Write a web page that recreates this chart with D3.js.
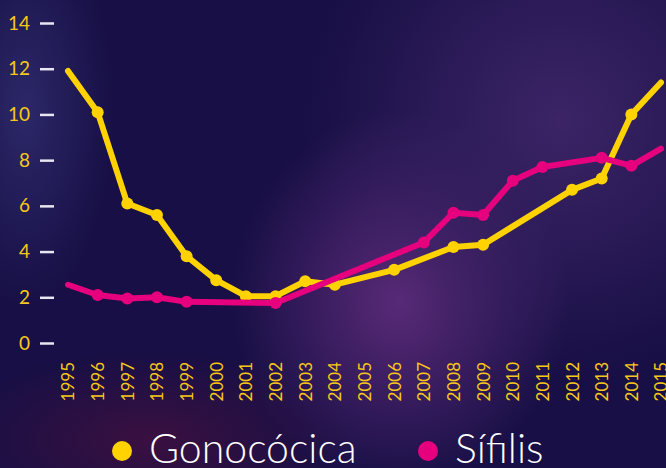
<!DOCTYPE html>
<html>
<head>
<meta charset="utf-8">
<script src="https://cdn.jsdelivr.net/npm/d3@7"></script>
<style>
  html, body { margin: 0; padding: 0; background: #150f42; }
  svg { display: block; }
</style>
</head>
<body>
<div id="viz"></div>
<script>
const years = ['1995','1996','1997','1998','1999','2000','2001','2002','2003','2004','2005',
               '2006','2007','2008','2009','2010','2011','2012','2013','2014','2015'];
// null = no value reported that year (line is drawn straight across)
const gonococica = [11.9, 10.1, 6.1, 5.6, 3.8, 2.75, 2.05, 2.05, 2.7, 2.55, null,
                    3.2, null, 4.2, 4.3, null, null, 6.7, 7.2, 10.0, 11.4];
const sifilis = [2.55, 2.1, 1.95, 2.0, 1.8, null, null, 1.75, null, null, null,
                 null, 4.4, 5.7, 5.6, 7.1, 7.7, null, 8.1, 7.75, 8.5];
const yTicks = [0, 2, 4, 6, 8, 10, 12, 14];
const seriesNames = ['Gonocócica', 'Sífilis'];
const seriesColors = ['#ffd200', '#e6007e'];

const width = 666;
const height = 468;

const svg = d3.select('#viz')
    .append('svg')
    .attr('width', width)
    .attr('height', height);

// background glows
const defs = svg.append('defs');
function glow(id, stops) {
    const g = defs.append('radialGradient').attr('id', id);
    stops.forEach(s => g.append('stop')
        .attr('offset', s[0]).attr('stop-color', s[1]).attr('stop-opacity', s[2]));
}
glow('g1', [['0%', '#5a2a78', 1], ['100%', '#5a2a78', 0]]);
glow('g2', [['0%', '#3c2466', 1], ['100%', '#3c2466', 0]]);
glow('g3', [['0%', '#2c2868', 1], ['100%', '#2c2868', 0]]);
glow('g4', [['0%', '#3a1040', 1], ['100%', '#3a1040', 0]]);

svg.append('rect').attr('width', width).attr('height', height).attr('fill', '#170f45');
svg.append('ellipse').attr('cx', 400).attr('cy', 300).attr('rx', 170).attr('ry', 190).attr('fill', 'url(#g1)');
svg.append('ellipse').attr('cx', 560).attr('cy', 120).attr('rx', 260).attr('ry', 260).attr('fill', 'url(#g2)');
svg.append('ellipse').attr('cx', 25).attr('cy', 110).attr('rx', 90).attr('ry', 200).attr('fill', 'url(#g3)');
svg.append('ellipse').attr('cx', 150).attr('cy', 440).attr('rx', 200).attr('ry', 90).attr('fill', 'url(#g4)');

const x = d3.scalePoint()
    .domain(years)
    .range([68, 661]);

const y = d3.scaleLinear()
    .domain([0, 14])
    .range([343, 23]);

// y axis
const yAxis = svg.append('g')
    .attr('transform', 'translate(54,0)')
    .call(d3.axisLeft(y).tickValues(yTicks).tickSize(14).tickPadding(10));
yAxis.select('.domain').remove();
yAxis.selectAll('.tick line').attr('stroke', '#e8e6f0').attr('stroke-width', 2.5);
yAxis.selectAll('.tick text')
    .attr('fill', '#f7c81a')
    .attr('font-family', 'Lato, sans-serif')
    .attr('font-weight', 400)
    .attr('font-size', 19);

// x axis (labels only)
const xAxis = svg.append('g')
    .attr('transform', 'translate(0,358)')
    .call(d3.axisBottom(x).tickSize(0).tickPadding(0));
xAxis.select('.domain').remove();
xAxis.selectAll('.tick text')
    .attr('fill', '#f7c81a')
    .attr('font-family', 'Lato, sans-serif')
    .attr('font-weight', 400)
    .attr('font-size', 17)
    .attr('text-anchor', 'end')
    .attr('transform', 'rotate(-90)')
    .attr('x', -4)
    .attr('y', 0)
    .attr('dy', '0.35em');

const line = d3.line()
    .x(d => x(d.year))
    .y(d => y(d.value));

[gonococica, sifilis].forEach((vals, i) => {
    const pts = years.map((yr, j) => ({ year: yr, value: vals[j] }))
        .filter(d => d.value !== null);
    const g = svg.append('g');
    g.append('path')
        .datum(pts)
        .attr('fill', 'none')
        .attr('stroke', seriesColors[i])
        .attr('stroke-width', 6)
        .attr('stroke-linecap', 'round')
        .attr('stroke-linejoin', 'round')
        .attr('d', line);
    // markers on inner points only
    g.selectAll('circle')
        .data(pts.slice(1, -1))
        .join('circle')
        .attr('cx', d => x(d.year))
        .attr('cy', d => y(d.value))
        .attr('r', 6)
        .attr('fill', seriesColors[i]);
});

// legend
const legend = svg.append('g');
const legendX = [122, 428];
seriesNames.forEach((name, i) => {
    legend.append('circle')
        .attr('cx', legendX[i])
        .attr('cy', 451)
        .attr('r', 10)
        .attr('fill', seriesColors[i]);
    legend.append('text')
        .attr('x', legendX[i] + 27)
        .attr('y', 463)
        .attr('fill', '#ffffff')
        .attr('font-family', 'Lato, sans-serif')
        .attr('font-weight', 300)
        .attr('font-size', 41)
        .text(name);
});
</script>
</body>
</html>
